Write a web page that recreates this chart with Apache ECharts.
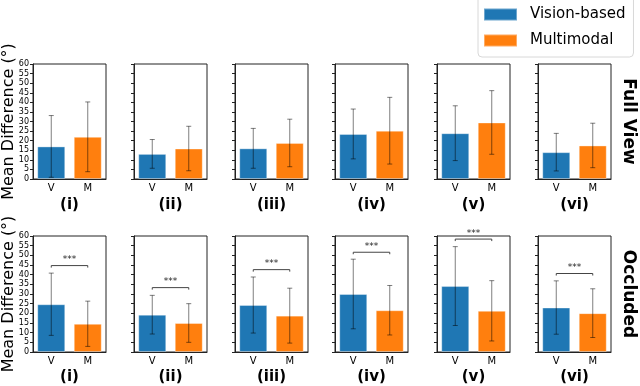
<!DOCTYPE html>
<html>
<head>
<meta charset="utf-8">
<script src="https://cdn.jsdelivr.net/npm/echarts@6/dist/echarts.min.js"></script>
<style>html,body{margin:0;padding:0;background:#fff}#c{width:640px;height:386px}</style>
</head>
<body>
<div id="c"></div>
<script>
// ---- data ----
const categories = ['V', 'M'];
const panelLabels = ['(i)', '(ii)', '(iii)', '(iv)', '(v)', '(vi)'];
const rowLabels = ['Full View', 'Occluded'];
const seriesNames = ['Vision-based', 'Multimodal'];
const yTicks = [0, 60, 5];
// Full view row
const fullVision = [17.0, 13.1, 16.0, 23.5, 23.9, 14.0];
const fullVisionErr = [16.1, 7.5, 10.4, 13.0, 14.3, 9.8];
const fullMulti = [22.0, 15.9, 18.8, 25.2, 29.5, 17.5];
const fullMultiErr = [18.2, 11.6, 12.4, 17.4, 16.6, 11.6];
// Occluded row
const occVision = [24.7, 19.3, 24.3, 30.0, 34.1, 23.0];
const occVisionErr = [16.1, 10.0, 14.5, 18.0, 20.4, 13.8];
const occMulti = [14.6, 15.0, 18.8, 21.6, 21.3, 20.1];
const occMultiErr = [11.7, 10.0, 14.2, 12.8, 15.6, 12.6];
const sigHeights = [44.7, 33.3, 42.6, 51.6, 58.4, 40.6];
const sigText = '***';

// ---- layout ----
const FONT = 'DejaVu Sans';
const colors = ['#1f77b4', '#ff7f0e'];
const gridLefts = [33, 134, 235, 335, 437, 538];
const gridW = 73;
const rowTops = [64, 236];
const rowHeights = [115, 116];
const panelLabelY = [205, 377];

const rows = [
  {v: fullVision, ve: fullVisionErr, m: fullMulti, me: fullMultiErr, sig: null},
  {v: occVision, ve: occVisionErr, m: occMulti, me: occMultiErr, sig: sigHeights}
];

const grids = [], xAxes = [], yAxes = [], series = [], graphics = [];

function errRender(params, api) {
  const x = api.value(0), mu = api.value(1), e = api.value(2);
  const t = api.coord([x, mu + e]);
  const b = api.coord([x, mu - e]);
  const cw = 2.5;
  const st = {stroke: 'rgba(0,0,0,0.5)', lineWidth: 1};
  return {type: 'group', children: [
    {type: 'line', shape: {x1: t[0], y1: t[1], x2: b[0], y2: b[1]}, style: st},
    {type: 'line', shape: {x1: t[0] - cw, y1: t[1], x2: t[0] + cw, y2: t[1]}, style: st},
    {type: 'line', shape: {x1: b[0] - cw, y1: b[1], x2: b[0] + cw, y2: b[1]}, style: st}
  ]};
}

rows.forEach((row, r) => {
  for (let c = 0; c < 6; c++) {
    const g = r * 6 + c;
    grids.push({left: gridLefts[c], top: rowTops[r], width: gridW, height: rowHeights[r],
      show: true, borderColor: '#222', borderWidth: 1, backgroundColor: 'transparent'});
    xAxes.push({gridIndex: g, type: 'category', data: categories,
      axisLine: {lineStyle: {color: '#222'}},
      axisTick: {alignWithLabel: true, length: 3, lineStyle: {color: '#222'}},
      axisLabel: {fontSize: 10, color: '#000', margin: 4, fontFamily: FONT}});
    yAxes.push({gridIndex: g, type: 'value', min: yTicks[0], max: yTicks[1], interval: yTicks[2],
      axisLine: {show: true, lineStyle: {color: '#222'}},
      axisTick: {show: true, length: 3, lineStyle: {color: '#222'}},
      axisLabel: {show: c === 0, fontSize: 8, margin: 4, color: '#000', fontFamily: FONT},
      splitLine: {show: false}});
    series.push({type: 'bar', name: seriesNames[0], xAxisIndex: g, yAxisIndex: g,
      data: [row.v[c], '-'], barWidth: 28, barGap: '-100%',
      itemStyle: {color: colors[0], borderColor: 'rgba(255,255,255,0.35)', borderWidth: 1}});
    series.push({type: 'bar', name: seriesNames[1], xAxisIndex: g, yAxisIndex: g,
      data: ['-', row.m[c]], barWidth: 28, barGap: '-100%',
      itemStyle: {color: colors[1], borderColor: 'rgba(255,255,255,0.35)', borderWidth: 1}});
    series.push({type: 'custom', xAxisIndex: g, yAxisIndex: g, renderItem: errRender,
      encode: {x: 0, y: 1}, z: 5, clip: false,
      data: [[0, row.v[c], row.ve[c]], [1, row.m[c], row.me[c]]]});
    if (row.sig) {
      series.push({type: 'custom', xAxisIndex: g, yAxisIndex: g, z: 6, clip: false,
        encode: {x: 0, y: 1}, data: [[0, row.sig[c]]],
        renderItem: function (params, api) {
          const h = api.value(1);
          const a = api.coord([0, h]), b = api.coord([1, h]);
          return {type: 'group', children: [
            {type: 'polyline', shape: {points: [[a[0], a[1] + 2], [a[0], a[1]], [b[0], b[1]], [b[0], b[1] + 2]]},
              style: {stroke: '#444', lineWidth: 1, fill: null}},
            {type: 'text', style: {text: sigText, x: (a[0] + b[0]) / 2, y: a[1] - 1,
              align: 'center', verticalAlign: 'bottom', fontSize: 9, fontFamily: FONT, fill: '#222'}}
          ]};
        }});
    }
    graphics.push({type: 'text', x: gridLefts[c] + gridW / 2, y: panelLabelY[r],
      style: {text: panelLabels[c], align: 'center', verticalAlign: 'middle',
        fontSize: 15, fontWeight: 'bold', fontFamily: FONT, fill: '#000'}});
  }
  const cy = rowTops[r] + rowHeights[r] / 2;
  graphics.push({type: 'text', x: 9, y: cy, rotation: Math.PI / 2,
    style: {text: 'Mean Difference (°)', align: 'center', verticalAlign: 'middle',
      fontSize: 16, fontFamily: FONT, fill: '#000'}});
  graphics.push({type: 'text', x: 628, y: cy, rotation: -Math.PI / 2,
    style: {text: rowLabels[r], align: 'center', verticalAlign: 'middle',
      fontSize: 17, fontWeight: 'bold', fontFamily: FONT, fill: '#000'}});
});

const chart = echarts.init(document.getElementById('c'), null, {renderer: 'canvas'});
chart.setOption({
  animation: false,
  backgroundColor: '#fff',
  textStyle: {fontFamily: FONT},
  legend: {
    data: seriesNames, orient: 'vertical', left: 478, top: -5,
    padding: [12, 8, 9, 5], itemWidth: 33, itemHeight: 12, itemGap: 11,
    icon: 'rect', borderColor: '#d8d8d8', borderWidth: 1, borderRadius: 4,
    backgroundColor: '#fff',
    textStyle: {fontSize: 15, color: '#000', fontFamily: FONT, padding: [0, 0, 0, 8], lineHeight: 12}
  },
  grid: grids, xAxis: xAxes, yAxis: yAxes, series: series, graphic: graphics
});
</script>
</body>
</html>
